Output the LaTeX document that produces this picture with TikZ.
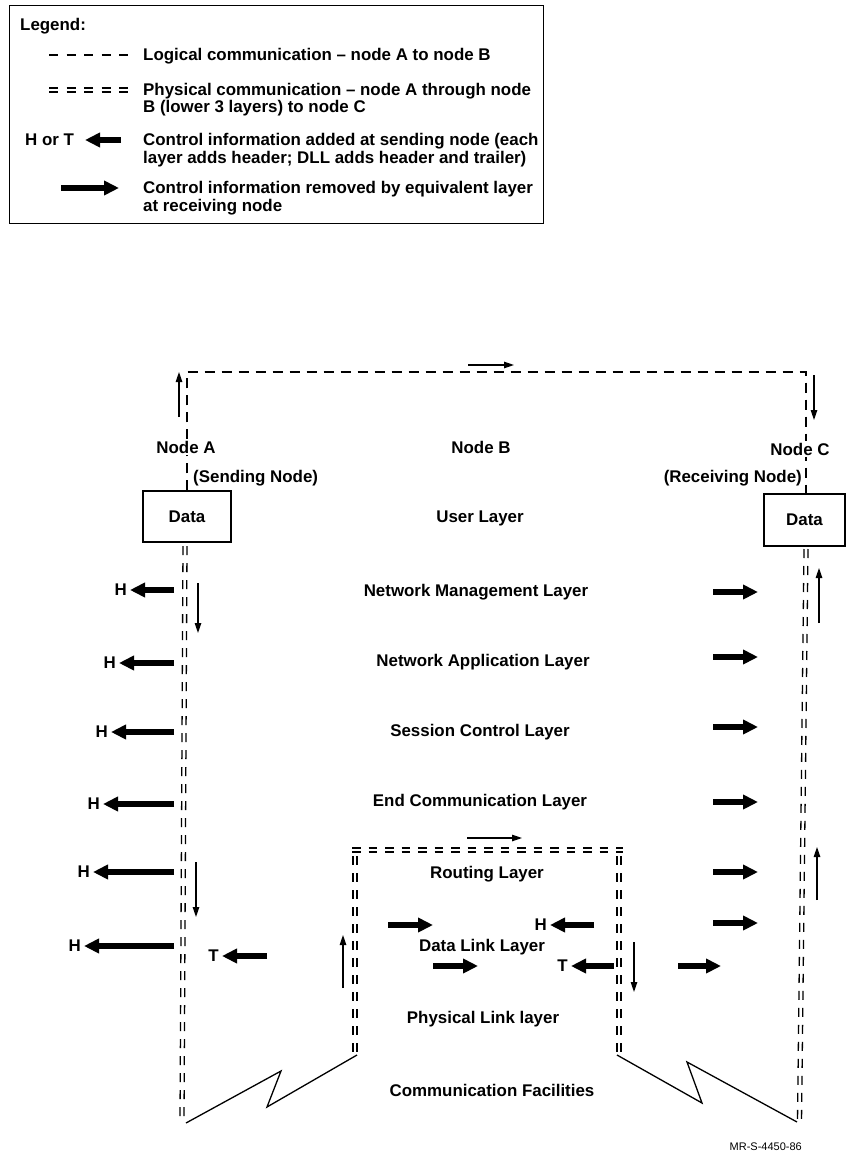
\documentclass[tikz,border=0pt]{standalone}
\usepackage{fontspec}
\setmainfont{Liberation Sans}
\usetikzlibrary{arrows.meta}
\begin{document}
\begin{tikzpicture}[x=1pt,y=-1pt,
  lbl/.style={font=\fontsize{16.9}{17}\selectfont\bfseries, inner sep=0pt},
  leg/.style={font=\fontsize{16.9}{17.5}\selectfont\bfseries, inner sep=0pt, align=left, anchor=base west},
  logical/.style={line width=1.2pt, dash pattern=on 10pt off 7pt},
  phys/.style={line width=1.3pt, dash pattern=on 9pt off 8pt},
  slim/.style={line width=1.2pt, -{Triangle[length=10pt,width=6.5pt]}},
  fat/.style={line width=6pt, -{Triangle[length=15pt,width=14pt]}},
  zig/.style={line width=1.3pt, line join=miter},
  databox/.style={draw, line width=1.2pt, minimum width=88pt, minimum height=51pt, inner sep=0pt,
    font=\fontsize{16.9}{17}\selectfont\bfseries}
]
\useasboundingbox (0,0) rectangle (846,1155);

% ---------------- Legend ----------------
\node[draw, line width=1.2pt, minimum width=534pt, minimum height=218pt, anchor=north west, inner sep=0pt] (legbox) at (9,5) {};
\node[leg] (legtitle) at (20,31) {Legend:};
\coordinate (l1a) at (49,55); \coordinate (l1b) at (131,55);
\draw[line width=1.3pt, dash pattern=on 9pt off 8.5pt] (l1a) -- (l1b);
\node[leg] (l1t) at (143,61) {Logical communication -- node A to node B};
\coordinate (l2a) at (49,88); \coordinate (l2b) at (131,88);
\draw[line width=1.3pt, dash pattern=on 9pt off 8.5pt] (l2a) -- (l2b);
\draw[line width=1.3pt, dash pattern=on 9pt off 8.5pt] ([yshift=-4pt]l2a) -- ([yshift=-4pt]l2b);
\node[leg] (l2t) at (143,113) {Physical communication -- node A through node\\B (lower 3 layers) to node C};
\node[leg] (l3h) at (25,146) {H or T};
\coordinate (l3a) at (121,140); \coordinate (l3b) at (85,140);
\draw[fat] (l3a) -- (l3b);
\node[leg] (l3t) at (143,163.5) {Control information added at sending node (each\\layer adds header; DLL adds header and trailer)};
\coordinate (l4a) at (61,188); \coordinate (l4b) at (119,188);
\draw[fat] (l4a) -- (l4b);
\node[leg] (l4t) at (143,211.5) {Control information removed by equivalent layer\\at receiving node};

% ---------------- Logical path ----------------
\node[databox] (dataA) at (187,516.5) {Data};
\node[databox, minimum width=81pt, minimum height=52pt] (dataC) at (804.5,520) {Data};
\coordinate (topL) at (187,372);
\coordinate (topR) at (806,372);
\draw[logical] (dataA.north -| topL) -- (topL) -- (topR) -- (dataC.north -| topR);

\node[lbl, fill=white, inner sep=2pt] (nodeA) at (186,447) {Node A};
\node[lbl] (nodeB) at (481,447) {Node B};
\node[lbl, fill=white, inner sep=2pt] (nodeC) at (800,449) {Node C};
\node[lbl, anchor=west] (sendA) at (193,478) {(Sending Node)};
\node[lbl, anchor=east] (recvC) at (802,478) {(Receiving Node)};

% slim arrows on logical path
\coordinate (a1s) at (179,417); \coordinate (a1e) at (179,372);
\draw[slim] (a1s) -- (a1e);
\coordinate (a2s) at (468,365); \coordinate (a2e) at (514,365);
\draw[slim] (a2s) -- (a2e);
\coordinate (a3s) at (814,375); \coordinate (a3e) at (814,420);
\draw[slim] (a3s) -- (a3e);

% ---------------- Layer labels ----------------
\node[lbl] (user) at (480,518) {User Layer};
\node[lbl] (nml) at (476,592) {Network Management Layer};
\node[lbl] (nal) at (483,662) {Network Application Layer};
\node[lbl] (scl) at (480,732) {Session Control Layer};
\node[lbl] (ecl) at (480,802) {End Communication Layer};
\node[lbl] (rl) at (487,874) {Routing Layer};
\node[lbl] (dll) at (482,947) {Data Link Layer};
\node[lbl] (pll) at (483,1019) {Physical Link layer};
\node[lbl] (cf) at (492,1090) {Communication Facilities};

% ---------------- Physical path ----------------
% left outer
\coordinate (LOt) at (185,546); \coordinate (LOb) at (182,1122);
\draw[phys] ([xshift=-2pt]LOt) -- ([xshift=-2pt]LOb);
\draw[phys] ([xshift=2pt]LOt) -- ([xshift=2pt]LOb);
% right outer
\coordinate (ROt) at (806,549); \coordinate (ROb) at (799.5,1122);
\draw[phys] ([xshift=-2pt]ROt) -- ([xshift=-2pt]ROb);
\draw[phys] ([xshift=2pt]ROt) -- ([xshift=2pt]ROb);
% inner box
\coordinate (ILt) at (355,856); \coordinate (ILb) at (355,1053);
\draw[phys] ([xshift=-2pt]ILt) -- ([xshift=-2pt]ILb);
\draw[phys] ([xshift=2pt]ILt) -- ([xshift=2pt]ILb);
\coordinate (IRt) at (619,856); \coordinate (IRb) at (619,1053);
\draw[phys] ([xshift=-2pt]IRt) -- ([xshift=-2pt]IRb);
\draw[phys] ([xshift=2pt]IRt) -- ([xshift=2pt]IRb);
\coordinate (ITl) at (352,850); \coordinate (ITr) at (623,850);
\draw[phys, dash pattern=on 8.5pt off 8pt] ([yshift=-2pt]ITl) -- ([yshift=-2pt]ITr);
\draw[phys, dash pattern=on 8.5pt off 8pt] ([yshift=2pt]ITl) -- ([yshift=2pt]ITr);

% zigzags (communication facilities)
\coordinate (zl0) at (186,1123); \coordinate (zl1) at (281,1071);
\coordinate (zl2) at (267,1107); \coordinate (zl3) at (357,1055);
\draw[zig] (zl0) -- (zl1) -- (zl2) -- (zl3);
\coordinate (zr0) at (617,1055); \coordinate (zr1) at (702,1103);
\coordinate (zr2) at (687,1062); \coordinate (zr3) at (797,1122);
\draw[zig] (zr0) -- (zr1) -- (zr2) -- (zr3);

% slim arrows on physical path
\coordinate (b1s) at (198,583); \coordinate (b1e) at (198,633);
\draw[slim] (b1s) -- (b1e);
\coordinate (b2s) at (196,862); \coordinate (b2e) at (196,917);
\draw[slim] (b2s) -- (b2e);
\coordinate (b3s) at (343,988); \coordinate (b3e) at (343,935);
\draw[slim] (b3s) -- (b3e);
\coordinate (b4s) at (467,838); \coordinate (b4e) at (522,838);
\draw[slim] (b4s) -- (b4e);
\coordinate (b5s) at (634,942); \coordinate (b5e) at (634,992);
\draw[slim] (b5s) -- (b5e);
\coordinate (b6s) at (819,623); \coordinate (b6e) at (819,568);
\draw[slim] (b6s) -- (b6e);
\coordinate (b7s) at (817,900); \coordinate (b7e) at (817,847);
\draw[slim] (b7s) -- (b7e);

% ---------------- Header / trailer arrows (sending) ----------------
\foreach \y/\tip [count=\i] in {590/130, 663/119, 732/111, 804/103, 872/93, 946/84}{
  \coordinate (hs\i) at (174,\y);
  \coordinate (he\i) at (\tip,\y);
  \draw[fat] (hs\i) -- (he\i);
  \node[lbl, anchor=east] (h\i) at (\tip-3,\y) {H};
}
\coordinate (ts1) at (267,956); \coordinate (te1) at (222,956);
\draw[fat] (ts1) -- (te1);
\node[lbl, anchor=east] (t1) at (219,956) {T};

% node B data link layer
\coordinate (bh1s) at (594,925); \coordinate (bh1e) at (550,925);
\draw[fat] (bh1s) -- (bh1e);
\node[lbl, anchor=east] (bh) at (547,925) {H};
\coordinate (bt1s) at (614,966); \coordinate (bt1e) at (571,966);
\draw[fat] (bt1s) -- (bt1e);
\node[lbl, anchor=east] (bt) at (568,966) {T};
\coordinate (br1s) at (388,925); \coordinate (br1e) at (433,925);
\draw[fat] (br1s) -- (br1e);
\coordinate (br2s) at (433,966); \coordinate (br2e) at (478,966);
\draw[fat] (br2s) -- (br2e);

% ---------------- removal arrows (receiving) ----------------
\foreach \y [count=\i] in {592, 657, 727, 802, 872, 923}{
  \coordinate (rs\i) at (713,\y);
  \coordinate (re\i) at (758,\y);
  \draw[fat] (rs\i) -- (re\i);
}
\coordinate (rs7) at (678,966); \coordinate (re7) at (721,966);
\draw[fat] (rs7) -- (re7);

% ---------------- figure id ----------------
\node[font=\fontsize{11}{12}\selectfont, inner sep=0pt, anchor=east] (figid) at (802,1147) {MR-S-4450-86};
\end{tikzpicture}
\end{document}
